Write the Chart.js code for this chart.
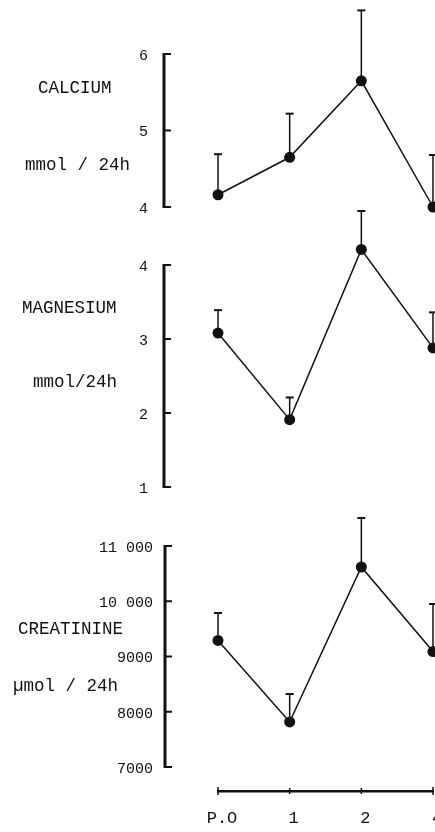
<!DOCTYPE html>
<html>
<head>
<meta charset="utf-8">
<script src="https://cdn.jsdelivr.net/npm/chart.js@4.4.0/dist/chart.umd.min.js"></script>
<style>
  html, body { margin: 0; padding: 0; background: #fff; }
  #wrap { position: relative; width: 435px; height: 832px; overflow: hidden; }
</style>
</head>
<body>
<div id="wrap"><canvas id="urine" width="435" height="832"></canvas></div>
<script>
//  Weeks after operation (x categories)
var weeks = ['P.O', '1', '2', '4'];

//  Urinary excretion, mean and upper error
var calciumMean    = [4.16, 4.65, 5.65, 4.00];
var calciumErr     = [0.53, 0.57, 0.92, 0.68];

var magnesiumMean  = [3.08, 1.91, 4.21, 2.88];
var magnesiumErr   = [0.31, 0.30, 0.52, 0.48];

var creatinineMean = [9290, 7815, 10620, 9090];
var creatinineErr  = [497, 506, 887, 860];

//  Tick values for the bracket axes
var calciumTicks    = [4, 5, 6];
var magnesiumTicks  = [1, 2, 3, 4];
var creatinineTicks = [7000, 8000, 9000, 10000, 11000];
var creatinineTickLabels = ['7000', '8000', '9000', '10 000', '11 000'];

var INK  = '#111';
var FONT = "'Liberation Mono', 'DejaVu Sans Mono', monospace";
var AREA_BOTTOM = 791;

//  work out min/max so two tick values land on given pixel rows
function span(lo, pLo, hi, pHi) {
    var k = (pLo - pHi) / (hi - lo);
    return { min: lo - (AREA_BOTTOM - pLo) / k, max: hi + pHi / k };
}

var panels = [
    { id: 'yCa', ticks: calciumTicks, labels: calciumTicks.map(String), mean: calciumMean, err: calciumErr,
      range: span(4, 207, 6, 54), axisX: 164, labelX: 148,
      titles: [['CALCIUM', 38, 88], ['mmol / 24h', 25, 165]] },
    { id: 'yMg', ticks: magnesiumTicks, labels: magnesiumTicks.map(String), mean: magnesiumMean, err: magnesiumErr,
      range: span(1, 487, 4, 265), axisX: 164, labelX: 148,
      titles: [['MAGNESIUM', 22, 308], ['mmol/24h', 33, 382]] },
    { id: 'yCr', ticks: creatinineTicks, labels: creatinineTickLabels, mean: creatinineMean, err: creatinineErr,
      range: span(7000, 767, 11000, 546), axisX: 165, labelX: 153,
      titles: [['CREATININE', 18, 629], ['\u00b5mol / 24h', 13, 686]] }
];

//  Plugin: error bars, bracket y axes, titles and x tick marks
var bracketAxes = {
    id: 'bracketAxes',
    beforeDatasetsDraw: function(chart) {
        var ctx = chart.ctx;
        ctx.save();
        ctx.strokeStyle = INK;
        panels.forEach(function(p, i) {
            var meta = chart.getDatasetMeta(i);
            var sc = chart.scales[p.id];
            meta.data.forEach(function(pt, j) {
                var y0 = sc.getPixelForValue(p.mean[j]);
                var y1 = sc.getPixelForValue(p.mean[j] + p.err[j]);
                ctx.lineWidth = 1.5;
                ctx.beginPath(); ctx.moveTo(pt.x, y0); ctx.lineTo(pt.x, y1); ctx.stroke();
                ctx.lineWidth = 2;
                ctx.beginPath(); ctx.moveTo(pt.x - 4, y1); ctx.lineTo(pt.x + 4, y1); ctx.stroke();
            });
        });
        ctx.restore();
    },
    afterDraw: function(chart) {
        var ctx = chart.ctx;
        ctx.save();
        ctx.strokeStyle = INK;
        ctx.fillStyle = INK;
        panels.forEach(function(p) {
            var sc = chart.scales[p.id];
            var yTop = sc.getPixelForValue(p.ticks[p.ticks.length - 1]);
            var yBot = sc.getPixelForValue(p.ticks[0]);
            ctx.lineWidth = 3;
            ctx.beginPath(); ctx.moveTo(p.axisX, yTop - 1); ctx.lineTo(p.axisX, yBot + 1); ctx.stroke();
            ctx.lineWidth = 2;
            ctx.font = '15px ' + FONT;
            ctx.textAlign = 'right';
            ctx.textBaseline = 'middle';
            p.ticks.forEach(function(v, k) {
                var y = sc.getPixelForValue(v);
                ctx.beginPath(); ctx.moveTo(p.axisX, y); ctx.lineTo(p.axisX + 7, y); ctx.stroke();
                ctx.fillText(p.labels[k], p.labelX, y + 2);
            });
            ctx.font = '17.5px ' + FONT;
            ctx.textAlign = 'left';
            p.titles.forEach(function(t) { ctx.fillText(t[0], t[1], t[2]); });
        });
        var xs = chart.scales.x;
        ctx.lineWidth = 1.5;
        weeks.forEach(function(w, i) {
            var px = xs.getPixelForTick(i);
            var h = (i === 0 || i === weeks.length - 1) ? 4 : 3;
            ctx.beginPath(); ctx.moveTo(px, xs.top - h); ctx.lineTo(px, xs.top + h); ctx.stroke();
        });
        ctx.restore();
    }
};

function lineSet(p) {
    return {
        data: p.mean,
        yAxisID: p.id,
        borderColor: INK,
        borderWidth: 1.5,
        backgroundColor: INK,
        pointBackgroundColor: INK,
        pointBorderColor: INK,
        pointRadius: 5.5,
        pointBorderWidth: 0,
        tension: 0,
        clip: false
    };
}

var scales = {
    x: {
        type: 'category',
        offset: false,
        grid: { display: false },
        border: { display: true, color: INK, width: 2.5 },
        ticks: { color: INK, font: { family: FONT, size: 17 }, padding: 9, labelOffset: 4,
                 autoSkip: false, maxRotation: 0 },
        afterFit: function(scale) {
            scale.height = 832 - AREA_BOTTOM;
            scale.paddingLeft = 0;
            scale.paddingRight = 0;
        }
    }
};
panels.forEach(function(p) {
    scales[p.id] = { type: 'linear', display: false, min: p.range.min, max: p.range.max };
});

var urineChart = new Chart(document.getElementById('urine'), {
    type: 'line',
    data: { labels: weeks, datasets: panels.map(lineSet) },
    options: {
        responsive: false,
        animation: false,
        devicePixelRatio: 1,
        layout: { autoPadding: false, padding: { left: 218, right: 2, top: 0, bottom: 0 } },
        plugins: { legend: { display: false }, tooltip: { enabled: false }, title: { display: false } },
        scales: scales
    },
    plugins: [bracketAxes]
});
</script>
</body>
</html>
